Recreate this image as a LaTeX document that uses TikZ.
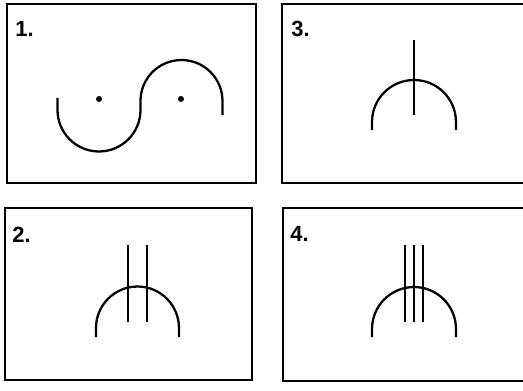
\documentclass[tikz,border=0pt]{standalone}
\usepackage{fontspec}
\setmainfont{Liberation Sans}
\usetikzlibrary{positioning}

\begin{document}
\begin{tikzpicture}[
  x=0.02cm, y=-0.02cm,
  panel/.style={
    rectangle, draw=black, line width=1.1pt,
    inner sep=0pt
  },
  tag/.style={
    font=\fontsize{12.5}{14}\selectfont\bfseries,
    inner sep=0pt, anchor=base west
  },
  stroke/.style={line width=1.3pt, draw=black},
  pivot/.style={circle, fill=black, inner sep=0pt, minimum size=0.12cm}
]
\useasboundingbox (0,0) rectangle (523,391);
\clip (0,0) rectangle (523,391);

% frames
\node[panel, minimum width=4.98cm, minimum height=3.58cm] (f1) at (131.5,93.5) {};
\node[panel, minimum width=4.94cm, minimum height=3.44cm] (f2) at (128.5,294) {};
\node[panel, minimum width=5.20cm, minimum height=3.58cm] (f3) at (412,93.5) {};
\node[panel, minimum width=5.20cm, minimum height=3.46cm] (f4) at (413,294.5) {};

\node[tag] (n1) at (15,37)  {1.};
\node[tag] (n2) at (12,242) {2.};
\node[tag] (n3) at (291,37) {3.};
\node[tag] (n4) at (290,241) {4.};

% 1: two half circles with their centres
\node[pivot] (c1) at (99,99)  {};
\node[pivot] (c2) at (181,99) {};
\draw[stroke] (57.5,98) -- (57.5,110) arc[start angle=180, end angle=360, radius=0.83cm]
  -- (140.5,101) arc[start angle=180, end angle=0, radius=0.82cm] -- (222.5,115);

% 3: one bar
\draw[stroke] (372,130) -- (372,122) arc[start angle=180, end angle=0, radius=0.84cm] -- (456,130);
\draw[stroke] (414,40) -- (414,115);

% 2: two bars
\draw[stroke] (96,337) -- (96,328) arc[start angle=180, end angle=0, radius=0.83cm] -- (179,337);
\foreach \bx in {128,147}
  \draw[stroke] (\bx,245) -- (\bx,322);

% 4: three bars
\draw[stroke] (372,337) -- (372,329) arc[start angle=180, end angle=0, radius=0.84cm] -- (456,337);
\foreach \bx in {405,414,423}
  \draw[stroke] (\bx,245) -- (\bx,322);
\end{tikzpicture}
\end{document}
